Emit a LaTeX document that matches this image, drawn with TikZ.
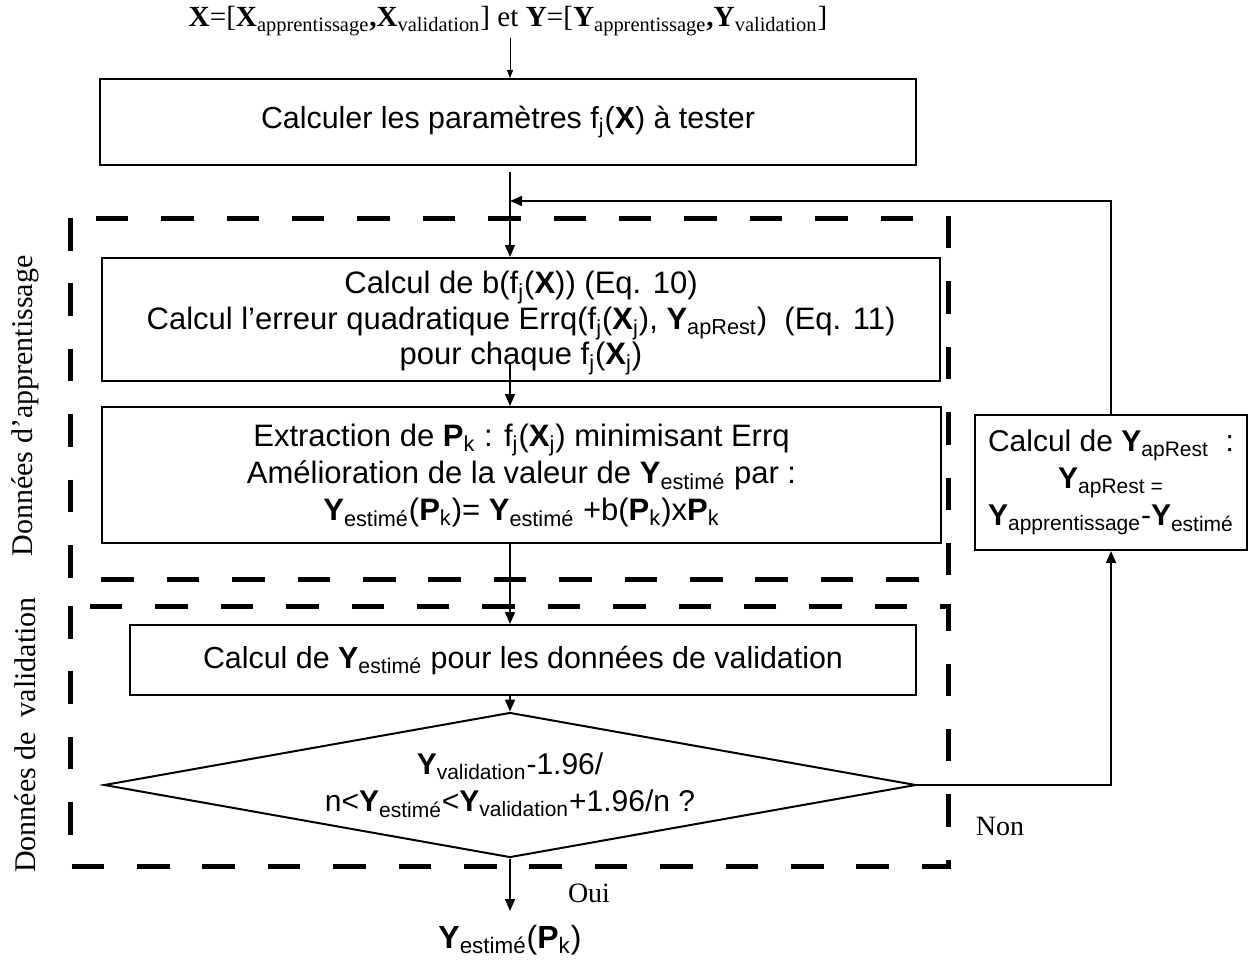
\documentclass[tikz,border=0pt]{standalone}
\usepackage{fontspec}
\setmainfont{Liberation Serif}
\newfontfamily\helv{Liberation Sans}
\usetikzlibrary{arrows.meta,shapes.geometric,calc}

\newcommand\sbx[1]{\textsubscript{#1}}

\begin{document}
\begin{tikzpicture}[x=0.5pt,y=-0.5pt,
  box/.style={draw, line width=1pt, inner sep=0pt, align=center, font=\helv\fontsize{15.5}{17.8}\selectfont},
  flow/.style={line width=0.8pt, -{Triangle[length=6pt,width=5pt]}},
  thinflow/.style={line width=0.5pt, -{Triangle[length=4pt,width=3pt]}},
  zone/.style={line width=2.5pt, dash pattern=on 16.25pt off 16.45pt},
  side/.style={rotate=90, font=\fontsize{15}{17}\selectfont},
  tag/.style={font=\fontsize{14}{16}\selectfont}
]
\useasboundingbox (0,0) rectangle (1258,974);

% training and validation zones
\draw[zone] (70,218) rectangle (948,579);
\draw[zone] (70,606) rectangle (948,866);

\coordinate (spine) at (510,0);

% inputs
\node[font=\fontsize{14.6}{16}\selectfont, inner sep=1pt] (inp) at (508,21)
  {\textbf{X}=[\textbf{X}\sbx{apprentissage}\textbf{,}\textbf{X}\sbx{validation}] et \textbf{Y}=[\textbf{Y}\sbx{apprentissage}\textbf{,}\textbf{Y}\sbx{validation}]};

% process boxes
\node[box, minimum width=408pt, minimum height=43pt, font=\helv\fontsize{15.2}{18}\selectfont] (b1) at (508,122)
  {\raisebox{-2pt}{Calculer les paramètres f\sbx{j}(\textbf{X}) à tester}};
\node[box, minimum width=419pt, minimum height=61.5pt] (b2) at (521,319.5)
  {\rule{0pt}{15pt}Calcul de b(f\sbx{j}(\textbf{X})) (Eq. 10)\\
   Calcul l’erreur quadratique Errq(f\sbx{j}(\textbf{X}\sbx{j}), \textbf{Y}\sbx{apRest})\ \ (Eq. 11)\\
   pour chaque f\sbx{j}(\textbf{X}\sbx{j})};
\node[box, minimum width=419.5pt, minimum height=68pt, font=\helv\fontsize{15.5}{18.5}\selectfont] (b3) at (521.5,475)
  {Extraction de \textbf{P}\sbx{k} : f\sbx{j}(\textbf{X}\sbx{j}) minimisant Errq\\
   Amélioration de la valeur de \textbf{Y}\sbx{estimé} par :\\
   \textbf{Y}\sbx{estimé}(\textbf{P}\sbx{k})= \textbf{Y}\sbx{estimé} +b(\textbf{P}\sbx{k})x\textbf{P}\sbx{k}};
\node[box, minimum width=393pt, minimum height=35pt, font=\helv\fontsize{15.2}{18}\selectfont] (b4) at (523,660)
  {Calcul de \textbf{Y}\sbx{estimé} pour les données de validation};
\node[draw, shape=diamond, aspect=5.6, line width=1pt, inner sep=0pt, minimum width=406pt, minimum height=72.5pt, align=center,
      font=\helv\fontsize{15}{18.5}\selectfont] (dia) at (510,785)
  {\textbf{Y}\sbx{validation}-1.96/\\
   n<\textbf{Y}\sbx{estimé}<\textbf{Y}\sbx{validation}+1.96/n ?};
\node[box, minimum width=136pt, minimum height=67.5pt, font=\helv\fontsize{15}{18.5}\selectfont] (rb) at (1111,482.5)
  {Calcul de \textbf{Y}\sbx{apRest}\ \ :\\
   \textbf{Y}\sbx{apRest =}\\
   \textbf{Y}\sbx{apprentissage}-\textbf{Y}\sbx{estimé}};

% result
\node[font=\helv\fontsize{16}{18}\selectfont, inner sep=0pt, anchor=north] (res) at (510,925)
  {\textbf{Y}\sbx{estimé}(\textbf{P}\sbx{k})};

% zone labels
\node[side] (lapp) at (25,406) {Données d’apprentissage};
\node[side] (lval) at (25,735) {Données de\ \ validation};

% branch labels
\node[tag] (non) at (1000,826) {Non};
\node[tag] (oui) at (589,893) {Oui};

% connectors
\coordinate (loop) at (510,201);
\coordinate (chq) at (510,362);
\draw[thinflow] (inp.south -| spine) -- (b1.north -| spine);
\draw[flow] ($(b1.south -| spine)+(0,6)$) -- (b2.north -| spine);
\draw[flow] (chq) -- (b3.north -| spine);
\draw[flow] (b3.south -| spine) -- (b4.north -| spine);
\draw[flow] (b4.south -| spine) -- (dia.north);
\draw[flow] (dia.south) -- ($(res.north)+(0,-14)$);
\draw[flow] (dia.east) -| (rb.south);
\draw[flow] (rb.north) |- (loop);
\end{tikzpicture}
\end{document}
